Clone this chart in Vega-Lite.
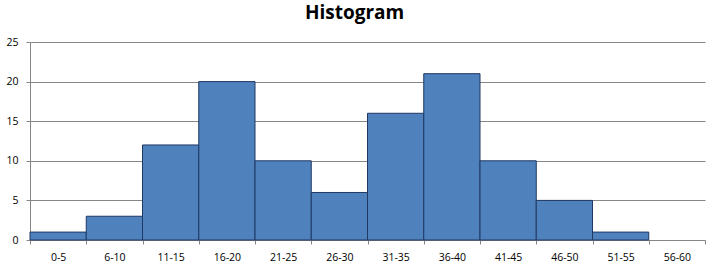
{
  "$schema": "https://vega.github.io/schema/vega-lite/v6.json",
  "width": 675,
  "height": 198,
  "autosize": {"type": "none"},
  "padding": {"left": 30, "top": 42, "right": 9, "bottom": 28},
  "title": {"text": "Histogram", "font": "Open Sans", "fontSize": 19, "fontWeight": "bold", "color": "#000000", "frame": "bounds", "anchor": "middle", "offset": 14, "dx": -15},
  "config": {"view": {"stroke": null}, "background": "#ffffff"},
  "data": {"values": [
    {"bin": "0-5", "lo": 0, "hi": 5, "count": 1},
    {"bin": "6-10", "lo": 5, "hi": 10, "count": 3},
    {"bin": "11-15", "lo": 10, "hi": 15, "count": 12},
    {"bin": "16-20", "lo": 15, "hi": 20, "count": 20},
    {"bin": "21-25", "lo": 20, "hi": 25, "count": 10},
    {"bin": "26-30", "lo": 25, "hi": 30, "count": 6},
    {"bin": "31-35", "lo": 30, "hi": 35, "count": 16},
    {"bin": "36-40", "lo": 35, "hi": 40, "count": 21},
    {"bin": "41-45", "lo": 40, "hi": 45, "count": 10},
    {"bin": "46-50", "lo": 45, "hi": 50, "count": 5},
    {"bin": "51-55", "lo": 50, "hi": 55, "count": 1},
    {"bin": "56-60", "lo": 55, "hi": 60, "count": 0}
  ]},
  "mark": {"type": "rect", "fill": "#4F81BD", "stroke": "#1F3864", "strokeWidth": 1},
  "encoding": {
    "x": {
      "field": "lo", "type": "quantitative",
      "scale": {"domain": [0, 60], "nice": false, "zero": false},
      "axis": {
        "title": null, "grid": false,
        "values": [0, 5, 10, 15, 20, 25, 30, 35, 40, 45, 50, 55, 60],
        "labelExpr": "datum.value == 0 ? '0-5' : (datum.value < 60 ? (datum.value + 1) + '-' + (datum.value + 5) : '')",
        "labelOffset": 28.125,
        "labelFont": "Open Sans", "labelFontSize": 10.5, "labelColor": "#000000",
        "labelPadding": 8, "tickSize": 4, "tickColor": "#868686", "domainColor": "#868686",
        "labelFlush": false, "labelOverlap": false, "labelBound": false
      }
    },
    "x2": {"field": "hi"},
    "y": {
      "field": "count", "type": "quantitative",
      "scale": {"domain": [0, 25], "nice": false},
      "axis": {
        "title": null, "values": [0, 5, 10, 15, 20, 25],
        "grid": true, "gridColor": "#868686", "gridOpacity": 1,
        "labelFont": "Open Sans", "labelFontSize": 10.5, "labelColor": "#000000",
        "labelPadding": 8, "tickSize": 4, "tickColor": "#868686", "domainColor": "#868686"
      }
    },
    "y2": {"datum": 0},
    "strokeOpacity": {"condition": {"test": "datum.count == 0", "value": 0}, "value": 1}
  }
}
